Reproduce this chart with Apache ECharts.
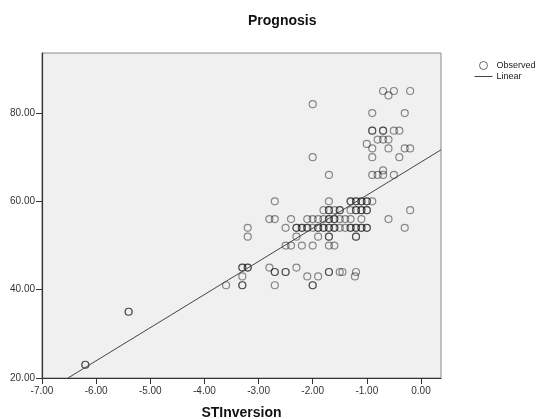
<!DOCTYPE html>
<html>
<head>
<meta charset="utf-8">
<script src="https://cdn.jsdelivr.net/npm/echarts@6/dist/echarts.min.js"></script>
<style>
html,body{margin:0;padding:0;background:#fff;}
#chart{width:544px;height:419px;}
</style>
</head>
<body>
<div id="chart"></div>
<script>
// Observed points (STInversion, Prognosis)
const obsX = [
  -6.2,-6.2,-5.4,-5.4,-3.6,
  -3.3,-3.3,-3.2,-3.2,-3.3,-3.3,-3.3,-3.2,-3.2,
  -2.8,-2.7,-2.7,-2.7,-2.5,-2.5,-2.3,
  -2.1,-2.0,-2.0,-1.9,-1.7,-1.7,-1.5,
  -1.45,-1.2,-1.22,
  -2.7,-1.7,
  -1.8,-1.7,-1.7,-1.6,-1.5,-1.5,
  -2.8,-2.7,-2.4,-2.1,-2.0,-1.9,-1.8,-1.7,-1.7,-1.6,-1.6,-1.5,
  -2.5,-2.3,-2.3,-2.2,-2.2,-2.1,-2.1,-2.0,-1.9,-1.9,-1.8,-1.8,-1.7,-1.7,-1.6,-1.6,-1.5,
  -2.3,-1.9,-1.7,-1.7,
  -2.5,-2.4,-2.2,-2.0,-1.7,-1.6,
  -1.3,-1.3,-1.2,-1.2,-1.1,-1.1,-1.0,-1.0,-0.9,
  -1.3,-1.2,-1.2,-1.1,-1.1,-1.0,-1.0,-0.2,
  -1.4,-1.3,-1.1,-0.6,
  -1.4,-1.3,-1.3,-1.2,-1.2,-1.1,-1.1,-1.0,-1.0,-0.3,
  -1.2,-1.2,
  -2.0,-2.0,-1.7,
  -0.7,-0.6,-0.5,-0.2,
  -0.9,-0.3,
  -0.9,-0.9,-0.7,-0.7,-0.5,-0.4,
  -0.8,-0.7,-0.6,
  -1.0,
  -0.9,-0.6,-0.3,-0.2,
  -0.9,-0.4,
  -0.9,-0.8,-0.7,-0.5,-0.7
];
const obsY = [
  23,23,35,35,41,
  45,45,45,45,43,41,41,54,52,
  45,44,44,41,44,44,45,
  43,41,41,43,44,44,44,
  44,44,43,
  60,60,
  58,58,58,58,58,58,
  56,56,56,56,56,56,56,56,56,56,56,56,
  54,54,54,54,54,54,54,54,54,54,54,54,54,54,54,54,54,
  52,52,52,52,
  50,50,50,50,50,50,
  60,60,60,60,60,60,60,60,60,
  58,58,58,58,58,58,58,58,
  56,56,56,56,
  54,54,54,54,54,54,54,54,54,54,
  52,52,
  82,70,66,
  85,84,85,85,
  80,80,
  76,76,76,76,76,76,
  74,74,74,
  73,
  72,72,72,72,
  70,70,
  66,66,66,66,67
];
// Linear fit
const fitIntercept = 68.9;
const fitSlope = 7.5;
const fitRange = [-6.52, 0.37];

const xTicks = [-7, -6, -5, -4, -3, -2, -1, 0];
const yTicks = [20, 40, 60, 80];

const points = obsX.map((x, i) => [x, obsY[i]]);
const linePts = fitRange.map(x => [x, fitIntercept + fitSlope * x]);

const chart = echarts.init(document.getElementById('chart'), null, {renderer: 'canvas'});
const font = 'Arial, "Liberation Sans", Helvetica, sans-serif';
chart.setOption({
  animation: false,
  backgroundColor: '#ffffff',
  textStyle: {fontFamily: font},
  title: {
    text: 'Prognosis',
    left: 243, top: 9,
    textStyle: {fontSize: 14, fontWeight: 'bold', color: '#111', fontFamily: font}
  },
  legend: {
    orient: 'vertical',
    left: 469, top: 56,
    itemWidth: 18, itemHeight: 8, itemGap: 2,
    textStyle: {fontSize: 9, color: '#222', fontFamily: font, padding: [0, 0, 0, -1]},
    data: [
      {name: 'Observed', icon: 'circle', itemStyle: {color: 'transparent', borderColor: '#444', borderWidth: 1}},
      {name: 'Linear', itemStyle: {color: 'transparent', borderColor: 'transparent', borderWidth: 0, opacity: 0},
       lineStyle: {color: '#444', width: 1, opacity: 1}}
    ]
  },
  grid: {
    left: 42, right: 103, top: 53, bottom: 41,
    outerBoundsMode: 'none', containLabel: false,
    show: true, backgroundColor: '#f0f0f0', borderColor: '#8a8a8a', borderWidth: 1
  },
  xAxis: {
    type: 'value', min: -7, max: 0.37, interval: 1,
    name: 'STInversion', nameLocation: 'middle', nameGap: 28,
    nameTextStyle: {fontSize: 14, fontWeight: 'bold', color: '#111', fontFamily: font},
    axisLine: {show: true, onZero: false, lineStyle: {color: '#333', width: 1.2}},
    axisTick: {show: true, length: 6, lineStyle: {color: '#333'}, customValues: xTicks},
    axisLabel: {fontSize: 10, color: '#333', margin: 8, fontFamily: font, customValues: xTicks,
      formatter: v => v.toFixed(2)},
    splitLine: {show: false}
  },
  yAxis: {
    type: 'value', min: 20, max: 93.6, interval: 20,
    axisLine: {show: true, onZero: false, lineStyle: {color: '#333', width: 1.2}},
    axisTick: {show: true, length: 6, lineStyle: {color: '#333'}, customValues: yTicks},
    axisLabel: {fontSize: 10, color: '#333', margin: 7, fontFamily: font, customValues: yTicks,
      formatter: v => v.toFixed(2)},
    splitLine: {show: false}
  },
  series: [
    {
      name: 'Observed', type: 'scatter', data: points,
      symbol: 'circle', symbolSize: 7,
      itemStyle: {color: 'transparent', borderColor: 'rgba(0,0,0,0.55)', borderWidth: 1.2},
      emphasis: {disabled: true}
    },
    {
      name: 'Linear', type: 'line', data: linePts, symbol: 'none',
      itemStyle: {color: '#444'},
      lineStyle: {color: '#444', width: 1}, clip: true,
      emphasis: {disabled: true}
    }
  ]
});
</script>
</body>
</html>
